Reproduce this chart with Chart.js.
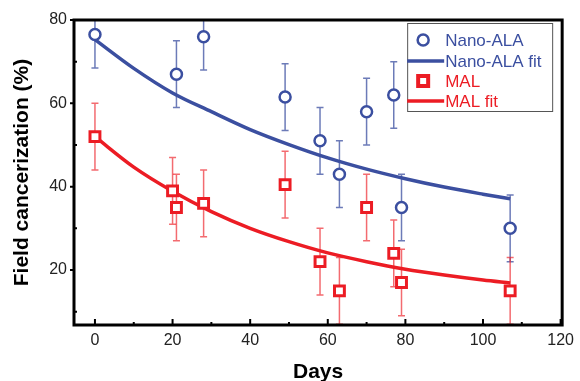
<!DOCTYPE html>
<html>
<head>
<meta charset="utf-8">
<script src="https://cdn.jsdelivr.net/npm/chart.js@4.4.1/dist/chart.umd.min.js"></script>
<style>
    html, body { margin: 0; padding: 0; background: #fff; }
    #wrap { width: 580px; height: 381px; }
</style>
</head>
<body>
<div id="wrap"><canvas id="fieldChart" width="580" height="381"></canvas></div>
<script>
// nilai
const nanoDays = [0, 21, 28, 49, 58, 63, 70, 77, 79, 107];
const nanoValues = [76.5, 67, 76, 61.5, 51, 43, 58, 62, 35, 30];
const nanoErr = [8, 8, 8, 8, 8, 8, 8, 8, 8, 8];

const malDays = [0, 20, 21, 28, 49, 58, 63, 70, 77, 79, 107];
const malValues = [52, 39, 35, 36, 40.5, 22, 15, 35, 24, 17, 15];
const malErr = [8, 8, 8, 8, 8, 8, 8, 8, 8, 8, 8];

const fitDays = [0, 10, 20, 30, 40, 50, 60, 70, 80, 90, 100, 107];
const nanoFit = [75.3, 68.4, 62.5, 58.0, 53.7, 50.1, 46.9, 44.2, 41.9, 39.9, 38.2, 37.1];
const malFit = [52.0, 44.7, 38.9, 34.0, 30.0, 26.8, 24.1, 22.0, 20.2, 18.8, 17.6, 16.9];

const xTicks = [0, 20, 40, 60, 80, 100, 120];
const xMinorTicks = [10, 30, 50, 70, 90, 110];
const yTicks = [20, 40, 60, 80];
const yMinorTicks = [10, 30, 50, 70];

const BLUE = '#3b4fa0';
const RED = '#ec1c24';
const FONT = "'Liberation Sans', Arial, sans-serif";

const toPoints = (xs, ys) => xs.map((x, i) => ({ x: x, y: ys[i] }));

// error bar, digambar lewat skala chart
const errorBarPlugin = {
    id: 'errorBars',
    beforeDatasetsDraw(chart) {
        const { ctx, chartArea, scales: { x, y } } = chart;
        const sets = [
            { days: nanoDays, vals: nanoValues, err: nanoErr, color: 'rgba(59,79,160,0.75)' },
            { days: malDays, vals: malValues, err: malErr, color: 'rgba(236,28,36,0.65)' }
        ];
        ctx.save();
        ctx.beginPath();
        ctx.rect(chartArea.left, chartArea.top, chartArea.width, chartArea.height);
        ctx.clip();
        ctx.lineWidth = 1.5;
        sets.forEach(s => {
            ctx.strokeStyle = s.color;
            s.days.forEach((d, i) => {
                const px = x.getPixelForValue(d);
                const top = y.getPixelForValue(s.vals[i] + s.err[i]);
                const bot = y.getPixelForValue(s.vals[i] - s.err[i]);
                ctx.beginPath();
                ctx.moveTo(px, top); ctx.lineTo(px, bot);
                ctx.moveTo(px - 3.5, top); ctx.lineTo(px + 3.5, top);
                ctx.moveTo(px - 3.5, bot); ctx.lineTo(px + 3.5, bot);
                ctx.stroke();
            });
        });
        ctx.restore();
    }
};

// bingkai, tick, dan legenda
const framePlugin = {
    id: 'frame',
    afterDraw(chart) {
        const { ctx, chartArea: a, scales: { x, y } } = chart;
        ctx.save();
        ctx.strokeStyle = '#000';
        ctx.lineWidth = 3;
        ctx.strokeRect(a.left, a.top, a.width, a.height);

        ctx.lineWidth = 2;
        ctx.beginPath();
        xTicks.forEach(v => {
            const px = x.getPixelForValue(v);
            ctx.moveTo(px, a.bottom); ctx.lineTo(px, a.bottom - 6);
        });
        xMinorTicks.forEach(v => {
            const px = x.getPixelForValue(v);
            ctx.moveTo(px, a.bottom); ctx.lineTo(px, a.bottom - 3);
        });
        yTicks.forEach(v => {
            const py = y.getPixelForValue(v);
            ctx.moveTo(a.left, py); ctx.lineTo(a.left - 4, py);
        });
        yMinorTicks.forEach(v => {
            const py = y.getPixelForValue(v);
            ctx.moveTo(a.left, py); ctx.lineTo(a.left + 3, py);
        });
        ctx.stroke();

        // legenda
        const lx = a.right - 155, ly = a.top + 3, lw = 145, lh = 88;
        ctx.fillStyle = '#fff';
        ctx.fillRect(lx, ly, lw, lh);
        ctx.strokeStyle = '#555';
        ctx.lineWidth = 1;
        ctx.strokeRect(lx + 0.5, ly + 0.5, lw, lh);

        const rows = chart.data.datasets.map(ds => ds.label);
        const rowY = [ly + 17, ly + 38, ly + 58, ly + 78];
        const colors = [BLUE, BLUE, RED, RED];
        ctx.font = '17px ' + FONT;
        ctx.textBaseline = 'middle';
        rows.forEach((label, i) => {
            const cy = rowY[i];
            ctx.strokeStyle = colors[i];
            if (i === 0) {
                ctx.lineWidth = 2.5;
                ctx.fillStyle = '#fff';
                ctx.beginPath();
                ctx.arc(lx + 16, cy, 5.5, 0, Math.PI * 2);
                ctx.fill(); ctx.stroke();
            } else if (i === 2) {
                ctx.lineWidth = 4;
                ctx.fillStyle = '#fff';
                ctx.fillRect(lx + 11, cy - 5, 10, 10);
                ctx.strokeRect(lx + 11, cy - 5, 10, 10);
            } else {
                ctx.lineWidth = 3.5;
                ctx.beginPath();
                ctx.moveTo(lx, cy); ctx.lineTo(lx + 37, cy);
                ctx.stroke();
            }
            ctx.fillStyle = colors[i];
            ctx.fillText(label, lx + 38, cy + 1);
        });
        ctx.restore();
    }
};

const ctx = document.getElementById('fieldChart').getContext('2d');

new Chart(ctx, {
    type: 'scatter',
    data: {
        datasets: [{
            label: 'Nano-ALA',
            data: toPoints(nanoDays, nanoValues),
            pointStyle: 'circle',
            pointRadius: 5.5,
            borderColor: BLUE,
            backgroundColor: '#fff',
            borderWidth: 2.5,
            order: 0
        }, {
            label: 'Nano-ALA fit',
            type: 'line',
            data: toPoints(fitDays, nanoFit),
            borderColor: BLUE,
            borderWidth: 3.5,
            pointRadius: 0,
            fill: false,
            cubicInterpolationMode: 'monotone',
            order: 2
        }, {
            label: 'MAL',
            data: toPoints(malDays, malValues),
            pointStyle: 'rect',
            pointRadius: 7,
            borderColor: RED,
            backgroundColor: '#fff',
            borderWidth: 3,
            order: 1
        }, {
            label: 'MAL fit',
            type: 'line',
            data: toPoints(fitDays, malFit),
            borderColor: RED,
            borderWidth: 3.5,
            pointRadius: 0,
            fill: false,
            cubicInterpolationMode: 'monotone',
            order: 3
        }]
    },
    options: {
        responsive: false,
        animation: false,
        layout: { padding: { top: 20, right: 14, left: 0, bottom: 0 } },
        plugins: {
            legend: { display: false },
            tooltip: { enabled: false }
        },
        scales: {
            x: {
                type: 'linear',
                min: -5.4,
                max: 120.4,
                afterFit: s => { s.height = 56; },
                afterBuildTicks: s => { s.ticks = xTicks.map(v => ({ value: v })); },
                grid: { display: false, drawTicks: false, tickLength: 0 },
                border: { display: false },
                ticks: { color: '#222', padding: 6, font: { family: FONT, size: 16 } },
                title: {
                    display: true,
                    text: 'Days',
                    color: '#000',
                    padding: { top: 0, bottom: -4 },
                    font: { family: FONT, size: 21, weight: 'bold' }
                }
            },
            y: {
                min: 6.8,
                max: 80,
                afterFit: s => { s.width = 74; },
                afterBuildTicks: s => { s.ticks = yTicks.map(v => ({ value: v })); },
                grid: { display: false, drawTicks: false, tickLength: 0 },
                border: { display: false },
                ticks: { color: '#222', padding: 7, font: { family: FONT, size: 16 } },
                title: {
                    display: true,
                    text: 'Field cancerization (%)',
                    color: '#000',
                    padding: { top: 10, bottom: 0 },
                    font: { family: FONT, size: 21, weight: 'bold' }
                }
            }
        }
    },
    plugins: [errorBarPlugin, framePlugin]
});
</script>
</body>
</html>
